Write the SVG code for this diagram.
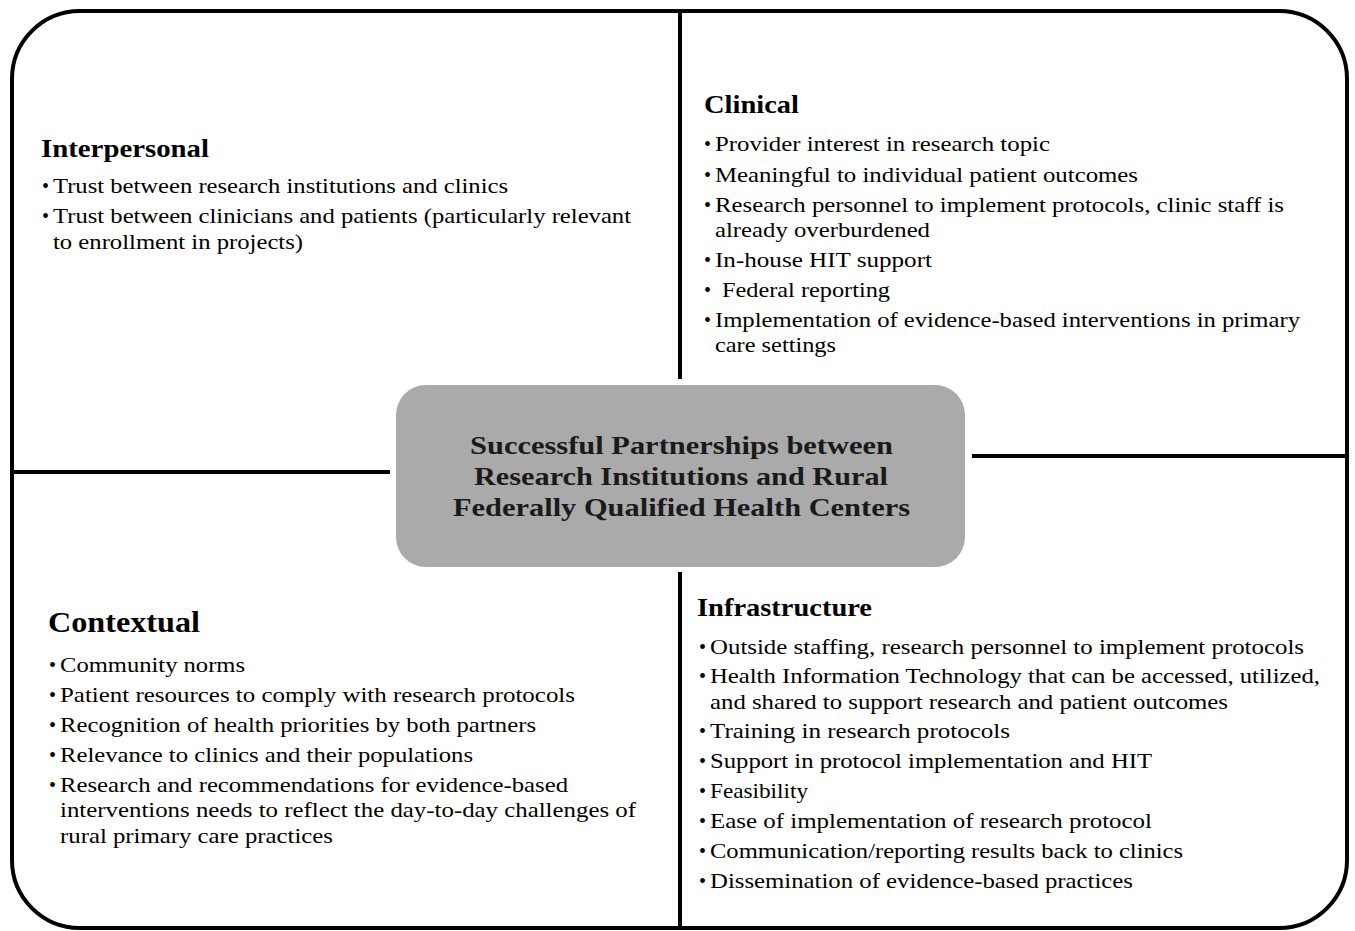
<svg xmlns="http://www.w3.org/2000/svg" width="1355" height="931" viewBox="0 0 1355 931">
<style>
.ln{stroke:#000;stroke-width:4;fill:none}
.h{font-family:"Liberation Serif","Times New Roman",serif;font-weight:bold;fill:#000}
.t{font-family:"Liberation Serif","Times New Roman",serif;font-size:21.5px;fill:#000}
.b{font-family:"Liberation Serif","Times New Roman",serif;font-size:20px;fill:#000}
.c{font-family:"Liberation Serif","Times New Roman",serif;font-weight:bold;font-size:25px;fill:#1a1a1a}
</style>
<rect width="1355" height="931" fill="#fff"/>
<g id="frame">
<rect class="ln" x="12" y="11" width="1335" height="917" rx="68" ry="68"/>
</g>
<g id="connectors">
<line class="ln" x1="680" y1="11" x2="680" y2="379"/>
<line class="ln" x1="680" y1="572" x2="680" y2="928"/>
<line class="ln" x1="12" y1="472" x2="390" y2="472"/>
<line class="ln" x1="972" y1="456" x2="1347" y2="456"/>
</g>
<g id="center">
<rect x="396" y="385" width="569" height="182" rx="30" ry="30" fill="#aaaaaa"/>
<text class="c" x="470" y="454" textLength="423" lengthAdjust="spacingAndGlyphs">Successful Partnerships between</text>
<text class="c" x="474" y="485" textLength="414" lengthAdjust="spacingAndGlyphs">Research Institutions and Rural</text>
<text class="c" x="453" y="516" textLength="457" lengthAdjust="spacingAndGlyphs">Federally Qualified Health Centers</text>
</g>
<g id="interpersonal">
<text class="h" x="41" y="157" font-size="26" textLength="168" lengthAdjust="spacingAndGlyphs">Interpersonal</text>
<text class="b" x="42" y="193">•</text>
<text class="t" x="53" y="193" textLength="455" lengthAdjust="spacingAndGlyphs">Trust between research institutions and clinics</text>
<text class="b" x="42" y="223">•</text>
<text class="t" x="53" y="223" textLength="578" lengthAdjust="spacingAndGlyphs">Trust between clinicians and patients (particularly relevant</text>
<text class="t" x="53" y="249" textLength="250" lengthAdjust="spacingAndGlyphs">to enrollment in projects)</text>
</g>
<g id="clinical">
<text class="h" x="704" y="113" font-size="26" textLength="95" lengthAdjust="spacingAndGlyphs">Clinical</text>
<text class="b" x="704" y="151">•</text>
<text class="t" x="715" y="151" textLength="335" lengthAdjust="spacingAndGlyphs">Provider interest in research topic</text>
<text class="b" x="704" y="182">•</text>
<text class="t" x="715" y="182" textLength="423" lengthAdjust="spacingAndGlyphs">Meaningful to individual patient outcomes</text>
<text class="b" x="704" y="212">•</text>
<text class="t" x="715" y="212" textLength="569" lengthAdjust="spacingAndGlyphs">Research personnel to implement protocols, clinic staff is</text>
<text class="t" x="715" y="237" textLength="215" lengthAdjust="spacingAndGlyphs">already overburdened</text>
<text class="b" x="704" y="267">•</text>
<text class="t" x="715" y="267" textLength="217" lengthAdjust="spacingAndGlyphs">In-house HIT support</text>
<text class="b" x="704" y="297">•</text>
<text class="t" x="722" y="297" textLength="168" lengthAdjust="spacingAndGlyphs">Federal reporting</text>
<text class="b" x="704" y="327">•</text>
<text class="t" x="715" y="327" textLength="585" lengthAdjust="spacingAndGlyphs">Implementation of evidence-based interventions in primary</text>
<text class="t" x="715" y="352" textLength="121" lengthAdjust="spacingAndGlyphs">care settings</text>
</g>
<g id="contextual">
<text class="h" x="48" y="632" font-size="29" textLength="152" lengthAdjust="spacingAndGlyphs">Contextual</text>
<text class="b" x="49" y="672">•</text>
<text class="t" x="60" y="672" textLength="185" lengthAdjust="spacingAndGlyphs">Community norms</text>
<text class="b" x="49" y="702">•</text>
<text class="t" x="60" y="702" textLength="515" lengthAdjust="spacingAndGlyphs">Patient resources to comply with research protocols</text>
<text class="b" x="49" y="732">•</text>
<text class="t" x="60" y="732" textLength="476" lengthAdjust="spacingAndGlyphs">Recognition of health priorities by both partners</text>
<text class="b" x="49" y="762">•</text>
<text class="t" x="60" y="762" textLength="413" lengthAdjust="spacingAndGlyphs">Relevance to clinics and their populations</text>
<text class="b" x="49" y="792">•</text>
<text class="t" x="60" y="792" textLength="508" lengthAdjust="spacingAndGlyphs">Research and recommendations for evidence-based</text>
<text class="t" x="60" y="817" textLength="576" lengthAdjust="spacingAndGlyphs">interventions needs to reflect the day-to-day challenges of</text>
<text class="t" x="60" y="843" textLength="273" lengthAdjust="spacingAndGlyphs">rural primary care practices</text>
</g>
<g id="infrastructure">
<text class="h" x="697" y="616" font-size="26" textLength="175" lengthAdjust="spacingAndGlyphs">Infrastructure</text>
<text class="b" x="699" y="654">•</text>
<text class="t" x="710" y="654" textLength="594" lengthAdjust="spacingAndGlyphs">Outside staffing, research personnel to implement protocols</text>
<text class="b" x="699" y="683">•</text>
<text class="t" x="710" y="683" textLength="610" lengthAdjust="spacingAndGlyphs">Health Information Technology that can be accessed, utilized,</text>
<text class="t" x="710" y="709" textLength="518" lengthAdjust="spacingAndGlyphs">and shared to support research and patient outcomes</text>
<text class="b" x="699" y="738">•</text>
<text class="t" x="710" y="738" textLength="300" lengthAdjust="spacingAndGlyphs">Training in research protocols</text>
<text class="b" x="699" y="768">•</text>
<text class="t" x="710" y="768" textLength="442" lengthAdjust="spacingAndGlyphs">Support in protocol implementation and HIT</text>
<text class="b" x="699" y="798">•</text>
<text class="t" x="710" y="798" textLength="98" lengthAdjust="spacingAndGlyphs">Feasibility</text>
<text class="b" x="699" y="828">•</text>
<text class="t" x="710" y="828" textLength="442" lengthAdjust="spacingAndGlyphs">Ease of implementation of research protocol</text>
<text class="b" x="699" y="858">•</text>
<text class="t" x="710" y="858" textLength="473" lengthAdjust="spacingAndGlyphs">Communication/reporting results back to clinics</text>
<text class="b" x="699" y="888">•</text>
<text class="t" x="710" y="888" textLength="423" lengthAdjust="spacingAndGlyphs">Dissemination of evidence-based practices</text>
</g>
</svg>
